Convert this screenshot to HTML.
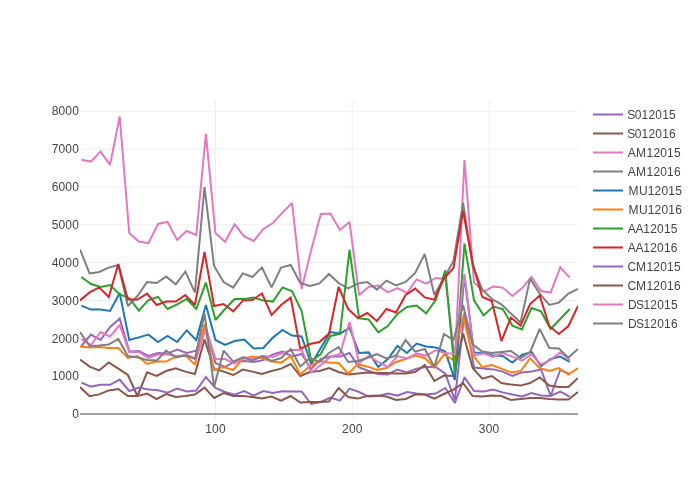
<!DOCTYPE html>
<html><head><meta charset="utf-8"><title>chart</title>
<style>
html,body{margin:0;padding:0;background:#fff;}
svg{display:block;font-family:"Liberation Sans",sans-serif;}
</style></head><body>
<svg width="700" height="500" viewBox="0 0 700 500">
<rect width="700" height="500" fill="#fff"/>

<g stroke="#eee" stroke-width="1">
<line x1="215.45" y1="100" x2="215.45" y2="420"/>
<line x1="352.26" y1="100" x2="352.26" y2="420"/>
<line x1="489.07" y1="100" x2="489.07" y2="420"/>
<line x1="80" y1="376.16" x2="578" y2="376.16"/>
<line x1="80" y1="338.31" x2="578" y2="338.31"/>
<line x1="80" y1="300.47" x2="578" y2="300.47"/>
<line x1="80" y1="262.62" x2="578" y2="262.62"/>
<line x1="80" y1="224.78" x2="578" y2="224.78"/>
<line x1="80" y1="186.94" x2="578" y2="186.94"/>
<line x1="80" y1="149.09" x2="578" y2="149.09"/>
<line x1="80" y1="111.25" x2="578" y2="111.25"/>
</g>
<line x1="80" y1="414.0" x2="578" y2="414.0" stroke="#444" stroke-width="1"/>
<defs><clipPath id="c"><rect x="80" y="100" width="498" height="320"/></clipPath></defs>
<g clip-path="url(#c)" fill="none" stroke-width="2" stroke-linejoin="miter" stroke-miterlimit="2">
<polyline stroke="#9467bd" points="81.37,346.00 90.95,334.60 100.52,340.00 110.10,327.00 119.68,318.50 129.25,351.40 138.83,351.00 148.41,356.00 157.99,353.00 167.56,353.60 177.14,349.60 186.72,353.00 196.29,350.60 205.87,327.50 215.45,363.00 225.02,367.00 234.60,361.60 244.18,361.00 253.75,362.00 263.33,360.00 272.91,354.40 282.49,351.60 292.06,356.40 301.64,354.00 311.22,369.00 320.79,359.00 330.37,356.60 339.95,356.60 349.52,353.00 359.10,367.40 368.68,371.00 378.25,374.00 387.83,374.40 397.41,369.60 406.99,372.40 416.56,368.60 426.14,367.00 435.72,367.00 445.29,373.60 454.87,400.00 464.45,312.50 474.02,367.60 483.60,368.60 493.18,369.40 502.75,371.60 512.33,376.00 521.91,372.40 531.49,371.40 541.06,369.40 550.64,396.00 560.22,370.00 569.79,374.00"/>
<polyline stroke="#8c564b" points="80.00,359.60 89.58,366.60 99.15,370.40 108.73,362.40 118.31,368.60 127.88,375.00 137.46,396.00 147.04,372.40 156.62,376.00 166.19,371.00 175.77,368.40 185.35,371.60 194.92,374.00 204.50,339.40 214.08,369.00 223.65,371.60 233.23,375.00 242.81,369.60 252.38,371.60 261.96,374.00 271.54,371.00 281.12,368.60 290.69,364.00 300.27,376.00 309.85,372.00 319.42,371.00 329.00,368.00 338.58,372.00 348.15,374.40 357.73,373.60 367.31,372.40 376.88,373.00 386.46,373.00 396.04,373.60 405.62,373.60 415.19,372.00 424.77,365.00 434.35,381.00 443.92,375.60 453.50,376.00 463.08,333.60 472.65,368.00 482.23,378.60 491.81,376.00 501.38,383.00 510.96,384.60 520.54,385.60 530.12,383.00 539.69,377.40 549.27,385.60 558.85,387.00 568.42,387.00 578.00,378.00"/>
<polyline stroke="#e377c2" points="81.37,159.80 90.95,161.60 100.52,151.60 110.10,164.80 119.68,116.40 129.25,233.00 138.83,241.60 148.41,243.20 157.99,224.00 167.56,222.00 177.14,240.00 186.72,231.00 196.29,235.00 205.87,133.80 215.45,233.00 225.02,242.00 234.60,224.40 244.18,236.40 253.75,241.00 263.33,229.00 272.91,223.00 282.49,212.60 292.06,203.00 301.64,289.00 311.22,250.00 320.79,214.00 330.37,213.60 339.95,230.00 349.52,222.00 359.10,295.00 368.68,287.00 378.25,285.60 387.83,292.40 397.41,288.00 406.99,293.00 416.56,279.40 426.14,283.60 435.72,278.00 445.29,279.00 454.87,360.00 464.45,160.00 474.02,282.40 483.60,291.60 493.18,286.60 502.75,287.60 512.33,296.00 521.91,288.40 531.49,277.00 541.06,291.00 550.64,292.60 560.22,267.40 569.79,277.60"/>
<polyline stroke="#7f7f7f" points="80.00,249.40 89.58,273.40 99.15,272.00 108.73,267.60 118.31,265.00 127.88,306.00 137.46,296.00 147.04,282.00 156.62,283.00 166.19,276.60 175.77,284.40 185.35,271.60 194.92,292.40 204.50,187.00 214.08,266.00 223.65,282.00 233.23,287.60 242.81,273.40 252.38,277.00 261.96,267.40 271.54,287.40 281.12,267.60 290.69,265.00 300.27,283.00 309.85,286.00 319.42,283.40 329.00,274.00 338.58,283.00 348.15,288.40 357.73,283.60 367.31,282.00 376.88,289.60 386.46,280.60 396.04,285.40 405.62,282.00 415.19,273.00 424.77,254.00 434.35,295.00 443.92,278.00 453.50,261.00 463.08,203.00 472.65,266.00 482.23,289.40 491.81,299.00 501.38,304.40 510.96,313.60 520.54,322.40 530.12,278.60 539.69,293.60 549.27,305.00 558.85,302.60 568.42,293.60 578.00,289.00"/>
<polyline stroke="#1f77b4" points="81.37,305.60 90.95,309.60 100.52,309.60 110.10,311.00 119.68,293.00 129.25,340.00 138.83,337.40 148.41,334.60 157.99,342.00 167.56,336.00 177.14,342.00 186.72,330.40 196.29,340.00 205.87,305.00 215.45,340.00 225.02,345.00 234.60,341.00 244.18,339.60 253.75,348.40 263.33,348.00 272.91,337.60 282.49,330.00 292.06,335.60 301.64,336.40 311.22,364.30 320.79,348.00 330.37,332.00 339.95,333.60 349.52,328.00 359.10,353.00 368.68,352.40 378.25,367.00 387.83,359.00 397.41,346.00 406.99,353.00 416.56,343.60 426.14,346.40 435.72,347.40 445.29,351.60 454.87,380.00 464.45,276.00 474.02,352.40 483.60,353.00 493.18,355.60 502.75,356.00 512.33,362.60 521.91,355.00 531.49,352.00 541.06,366.00 550.64,359.00 560.22,356.60 569.79,362.00"/>
<polyline stroke="#ff7f0e" points="80.00,346.60 89.58,347.40 99.15,347.00 108.73,348.00 118.31,348.00 127.88,358.00 137.46,356.00 147.04,364.00 156.62,361.40 166.19,361.60 175.77,356.60 185.35,355.40 194.92,364.60 204.50,324.50 214.08,370.00 223.65,367.00 233.23,370.00 242.81,359.00 252.38,356.40 261.96,358.00 271.54,361.60 281.12,362.60 290.69,356.00 300.27,374.40 309.85,366.00 319.42,361.00 329.00,362.60 338.58,363.00 348.15,373.60 357.73,364.40 367.31,366.40 376.88,370.00 386.46,368.00 396.04,362.00 405.62,359.00 415.19,355.60 424.77,358.00 434.35,367.40 443.92,354.60 453.50,360.00 463.08,316.50 472.65,355.00 482.23,367.00 491.81,365.00 501.38,368.60 510.96,372.40 520.54,371.00 530.12,358.40 539.69,368.00 549.27,371.00 558.85,368.00 568.42,374.60 578.00,368.00"/>
<polyline stroke="#2ca02c" points="81.37,277.00 90.95,284.00 100.52,287.00 110.10,285.00 119.68,294.40 129.25,298.00 138.83,310.60 148.41,300.00 157.99,297.00 167.56,309.00 177.14,304.40 186.72,299.00 196.29,309.00 205.87,282.60 215.45,320.00 225.02,309.00 234.60,299.00 244.18,299.00 253.75,297.60 263.33,300.40 272.91,301.60 282.49,287.40 292.06,291.40 301.64,311.00 311.22,361.00 320.79,354.00 330.37,336.00 339.95,334.00 349.52,249.60 359.10,318.40 368.68,319.40 378.25,332.40 387.83,326.00 397.41,314.00 406.99,307.00 416.56,305.60 426.14,313.40 435.72,300.00 445.29,270.40 454.87,374.00 464.45,243.60 474.02,300.40 483.60,315.40 493.18,306.60 502.75,309.00 512.33,325.60 521.91,329.40 531.49,308.00 541.06,311.40 550.64,329.00 560.22,319.00 569.79,309.00"/>
<polyline stroke="#d62728" points="80.00,300.40 89.58,292.40 99.15,287.40 108.73,297.00 118.31,264.00 127.88,299.60 137.46,299.60 147.04,293.60 156.62,305.00 166.19,301.60 175.77,301.60 185.35,295.00 194.92,305.00 204.50,252.00 214.08,306.00 223.65,304.00 233.23,311.40 242.81,300.60 252.38,300.00 261.96,293.40 271.54,315.00 281.12,305.00 290.69,297.60 300.27,349.00 309.85,344.00 319.42,342.00 329.00,333.60 338.58,287.00 348.15,309.00 357.73,318.00 367.31,313.00 376.88,321.00 386.46,309.00 396.04,312.40 405.62,295.00 415.19,288.60 424.77,297.40 434.35,299.60 443.92,278.60 453.50,268.00 463.08,211.00 472.65,263.00 482.23,297.00 491.81,301.00 501.38,341.00 510.96,317.60 520.54,325.60 530.12,304.00 539.69,295.60 549.27,326.00 558.85,334.00 568.42,326.00 578.00,306.00"/>
<polyline stroke="#9467bd" points="81.37,382.60 90.95,386.60 100.52,384.80 110.10,384.80 119.68,379.60 129.25,391.00 138.83,387.60 148.41,389.40 157.99,390.20 167.56,392.60 177.14,388.60 186.72,391.40 196.29,390.60 205.87,377.00 215.45,388.00 225.02,392.00 234.60,394.60 244.18,391.00 253.75,395.60 263.33,391.00 272.91,393.00 282.49,391.20 292.06,391.40 301.64,391.60 311.22,404.00 320.79,402.00 330.37,397.60 339.95,400.60 349.52,388.60 359.10,392.00 368.68,396.60 378.25,396.00 387.83,393.60 397.41,395.60 406.99,392.00 416.56,393.60 426.14,394.60 435.72,393.60 445.29,388.00 454.87,403.00 464.45,377.40 474.02,391.00 483.60,391.40 493.18,389.60 502.75,392.40 512.33,394.40 521.91,396.40 531.49,393.00 541.06,395.40 550.64,396.00 560.22,391.60 569.79,396.60"/>
<polyline stroke="#8c564b" points="80.00,387.00 89.58,396.20 99.15,394.40 108.73,390.40 118.31,389.00 127.88,396.00 137.46,396.00 147.04,393.60 156.62,399.00 166.19,394.00 175.77,397.00 185.35,396.00 194.92,394.60 204.50,387.60 214.08,398.00 223.65,393.00 233.23,396.00 242.81,396.00 252.38,397.00 261.96,398.60 271.54,396.60 281.12,400.60 290.69,396.00 300.27,402.60 309.85,402.00 319.42,402.00 329.00,401.60 338.58,388.00 348.15,397.00 357.73,398.60 367.31,396.00 376.88,395.40 386.46,396.60 396.04,400.00 405.62,399.00 415.19,394.60 424.77,394.60 434.35,398.60 443.92,394.00 453.50,389.60 463.08,383.00 472.65,396.00 482.23,396.40 491.81,395.60 501.38,396.00 510.96,400.00 520.54,399.00 530.12,398.00 539.69,398.00 549.27,399.00 558.85,399.60 568.42,399.60 578.00,392.00"/>
<polyline stroke="#e377c2" points="81.37,339.00 90.95,345.00 100.52,332.00 110.10,336.60 119.68,325.00 129.25,352.00 138.83,352.00 148.41,358.00 157.99,354.60 167.56,354.60 177.14,356.00 186.72,355.00 196.29,358.60 205.87,328.00 215.45,359.00 225.02,359.00 234.60,363.60 244.18,357.40 253.75,359.00 263.33,356.00 272.91,357.00 282.49,353.00 292.06,350.00 301.64,350.00 311.22,372.50 320.79,365.00 330.37,357.00 339.95,354.00 349.52,322.00 359.10,363.00 368.68,356.00 378.25,362.00 387.83,367.00 397.41,356.00 406.99,358.40 416.56,353.60 426.14,355.60 435.72,350.40 445.29,353.00 454.87,354.00 464.45,274.00 474.02,355.00 483.60,353.40 493.18,357.00 502.75,353.00 512.33,356.60 521.91,360.60 531.49,354.40 541.06,364.40 550.64,360.00 560.22,352.40 569.79,360.00"/>
<polyline stroke="#7f7f7f" points="80.00,332.00 89.58,346.00 99.15,345.60 108.73,344.60 118.31,339.00 127.88,356.00 137.46,357.60 147.04,360.00 156.62,360.60 166.19,350.60 175.77,357.40 185.35,355.40 194.92,359.00 204.50,313.50 214.08,387.00 223.65,350.60 233.23,361.60 242.81,357.40 252.38,360.60 261.96,356.00 271.54,361.00 281.12,358.00 290.69,349.00 300.27,366.40 309.85,358.00 319.42,362.00 329.00,353.00 338.58,347.00 348.15,362.00 357.73,361.00 367.31,358.00 376.88,354.00 386.46,358.40 396.04,355.60 405.62,340.00 415.19,351.60 424.77,349.00 434.35,367.00 443.92,334.00 453.50,340.00 463.08,305.00 472.65,344.40 482.23,351.60 491.81,353.00 501.38,352.00 510.96,351.00 520.54,358.00 530.12,352.00 539.69,329.00 549.27,348.00 558.85,348.40 568.42,357.60 578.00,349.00"/>
</g>
<g fill="#444" font-size="12px">
<text x="205.25 212.11 218.97" y="433.00">100</text>
<text x="342.06 348.92 355.79" y="433.00">200</text>
<text x="478.87 485.74 492.60" y="433.00">300</text>
<text x="72.23" y="418.20">0</text>
<text x="51.64 58.50 65.37 72.23" y="380.36">1000</text>
<text x="51.64 58.50 65.37 72.23" y="342.51">2000</text>
<text x="51.64 58.50 65.37 72.23" y="304.67">3000</text>
<text x="51.64 58.50 65.37 72.23" y="266.82">4000</text>
<text x="51.64 58.50 65.37 72.23" y="228.98">5000</text>
<text x="51.64 58.50 65.37 72.23" y="191.14">6000</text>
<text x="51.64 58.50 65.37 72.23" y="153.29">7000</text>
<text x="51.64 58.50 65.37 72.23" y="115.45">8000</text>
</g>
<g font-size="12px" fill="#444">
<line x1="593" y1="114.5" x2="623" y2="114.5" stroke="#9467bd" stroke-width="2"/>
<text x="627.29 634.68 641.55 648.41 655.28 662.14 669.00" y="119.00">S012015</text>
<line x1="593" y1="133.5" x2="623" y2="133.5" stroke="#8c564b" stroke-width="2"/>
<text x="627.29 634.68 641.55 648.41 655.28 662.14 669.00" y="138.00">S012016</text>
<line x1="593" y1="152.5" x2="623" y2="152.5" stroke="#e377c2" stroke-width="2"/>
<text x="627.80 636.02 646.53 653.39 660.26 667.12 673.98" y="157.00">AM12015</text>
<line x1="593" y1="171.5" x2="623" y2="171.5" stroke="#7f7f7f" stroke-width="2"/>
<text x="627.80 636.02 646.53 653.39 660.26 667.12 673.98" y="176.00">AM12016</text>
<line x1="593" y1="190.5" x2="623" y2="190.5" stroke="#1f77b4" stroke-width="2"/>
<text x="628.42 638.88 647.68 654.54 661.41 668.27 675.14" y="195.00">MU12015</text>
<line x1="593" y1="209.5" x2="623" y2="209.5" stroke="#ff7f0e" stroke-width="2"/>
<text x="628.42 638.88 647.68 654.54 661.41 668.27 675.14" y="214.00">MU12016</text>
<line x1="593" y1="228.5" x2="623" y2="228.5" stroke="#2ca02c" stroke-width="2"/>
<text x="627.80 635.39 643.29 650.15 657.02 663.88 670.74" y="233.00">AA12015</text>
<line x1="593" y1="247.5" x2="623" y2="247.5" stroke="#d62728" stroke-width="2"/>
<text x="627.80 635.39 643.29 650.15 657.02 663.88 670.74" y="252.00">AA12016</text>
<line x1="593" y1="266.5" x2="623" y2="266.5" stroke="#9467bd" stroke-width="2"/>
<text x="627.45 635.98 646.49 653.36 660.22 667.08 673.95" y="271.00">CM12015</text>
<line x1="593" y1="285.5" x2="623" y2="285.5" stroke="#8c564b" stroke-width="2"/>
<text x="627.45 635.98 646.49 653.36 660.22 667.08 673.95" y="290.00">CM12016</text>
<line x1="593" y1="304.5" x2="623" y2="304.5" stroke="#e377c2" stroke-width="2"/>
<text x="628.04 636.04 643.43 650.30 657.16 664.02 670.89" y="309.00">DS12015</text>
<line x1="593" y1="323.5" x2="623" y2="323.5" stroke="#7f7f7f" stroke-width="2"/>
<text x="628.04 636.04 643.43 650.30 657.16 664.02 670.89" y="328.00">DS12016</text>
</g>
</svg></body></html>
